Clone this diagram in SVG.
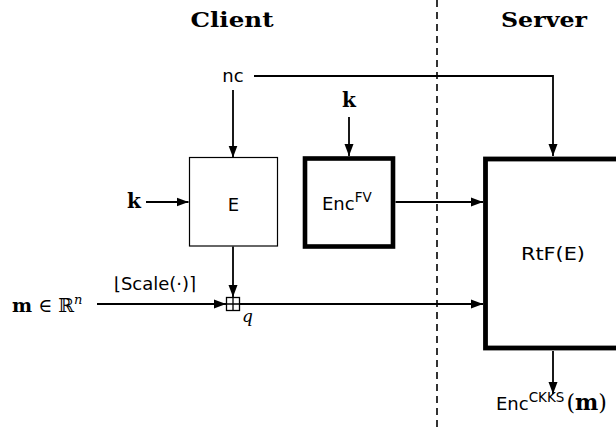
<svg xmlns="http://www.w3.org/2000/svg" width="616" height="427" viewBox="0 0 616 427">
<style>
.sans{font-family:"DejaVu Sans","Liberation Sans",sans-serif;font-size:18px;fill:#000}
.serif{font-family:"DejaVu Serif","Liberation Serif",serif;fill:#000}
.bold{font-weight:bold}
.ln{stroke:#000;stroke-width:1.8;fill:none}
</style>
<defs>
<marker id="ah" markerWidth="12" markerHeight="10" refX="12" refY="5" orient="auto" markerUnits="userSpaceOnUse"><path d="M0,0.5 L12,5 L0,9.5 z" fill="#000"/></marker>
</defs>
<rect width="616" height="427" fill="#fff"/>
<g id="titles">
<text class="serif bold" x="232" y="27" font-size="21" text-anchor="middle" textLength="83" lengthAdjust="spacingAndGlyphs">Client</text>
<text class="serif bold" x="544" y="27" font-size="21" text-anchor="middle" textLength="86" lengthAdjust="spacingAndGlyphs">Server</text>
</g>
<g id="divider"><line x1="437" y1="0" x2="437" y2="427" stroke="#000" stroke-width="1.6" stroke-dasharray="7,5"/></g>
<g id="connectors">
<path class="ln" d="M254,76 H553 V156" marker-end="url(#ah)"/>
<path class="ln" d="M233,90 V157.5" marker-end="url(#ah)"/>
<path class="ln" d="M146,202 H188.5" marker-end="url(#ah)"/>
<path class="ln" d="M349,117 V156" marker-end="url(#ah)"/>
<path class="ln" d="M395.5,202 H483" marker-end="url(#ah)"/>
<path class="ln" d="M233,246.5 V297" marker-end="url(#ah)"/>
<path class="ln" d="M97,304 H226" marker-end="url(#ah)"/>
<path class="ln" d="M240,304 H483" marker-end="url(#ah)"/>
<path class="ln" d="M553,351 V394" marker-end="url(#ah)"/>
</g>
<g id="nc"><text class="sans" x="233" y="82" text-anchor="middle">nc</text></g>
<g id="k1"><text class="serif bold" x="349" y="107" font-size="20" text-anchor="middle">k</text></g>
<g id="k2"><text class="serif bold" x="134" y="208" font-size="20" text-anchor="middle">k</text></g>
<g id="E"><rect x="189.5" y="157.5" width="88" height="88.5" fill="#fff" stroke="#000" stroke-width="1.2"/><text class="sans" x="233.5" y="210.5" font-size="20" text-anchor="middle">E</text></g>
<g id="EncFV"><rect x="305" y="158.5" width="88" height="88" fill="#fff" stroke="#000" stroke-width="4.6"/><text class="sans" x="322" y="210" font-size="19">Enc<tspan font-size="13.5" dy="-8">FV</tspan></text></g>
<g id="RtF"><rect x="485.5" y="159" width="135" height="189" fill="#fff" stroke="#000" stroke-width="4.8"/><text class="sans" x="521" y="260" font-size="20" textLength="64" lengthAdjust="spacingAndGlyphs">RtF(E)</text></g>
<g id="plus"><rect x="226.5" y="297.5" width="13" height="13" fill="#fff" stroke="#000" stroke-width="1.3"/><path d="M233,297.5 V310.5 M226.5,304 H239.5" stroke="#000" stroke-width="1.3"/><text class="serif" x="242" y="322" font-size="17" font-style="italic">q</text></g>
<g id="input"><text class="serif" x="12" y="312" font-size="19"><tspan font-weight="bold">m</tspan> ∈ ℝ<tspan font-size="13" dy="-8" font-style="italic">n</tspan></text></g>
<g id="scale"><text class="sans" x="155" y="290" font-size="18" text-anchor="middle">⌊Scale(·)⌉</text></g>
<g id="output"><text class="sans" x="496" y="410" font-size="19">Enc<tspan font-size="13.5" dy="-8">CKKS</tspan><tspan class="serif" font-size="22" dy="8" dx="2">(<tspan font-weight="bold">m</tspan>)</tspan></text></g>
</svg>
